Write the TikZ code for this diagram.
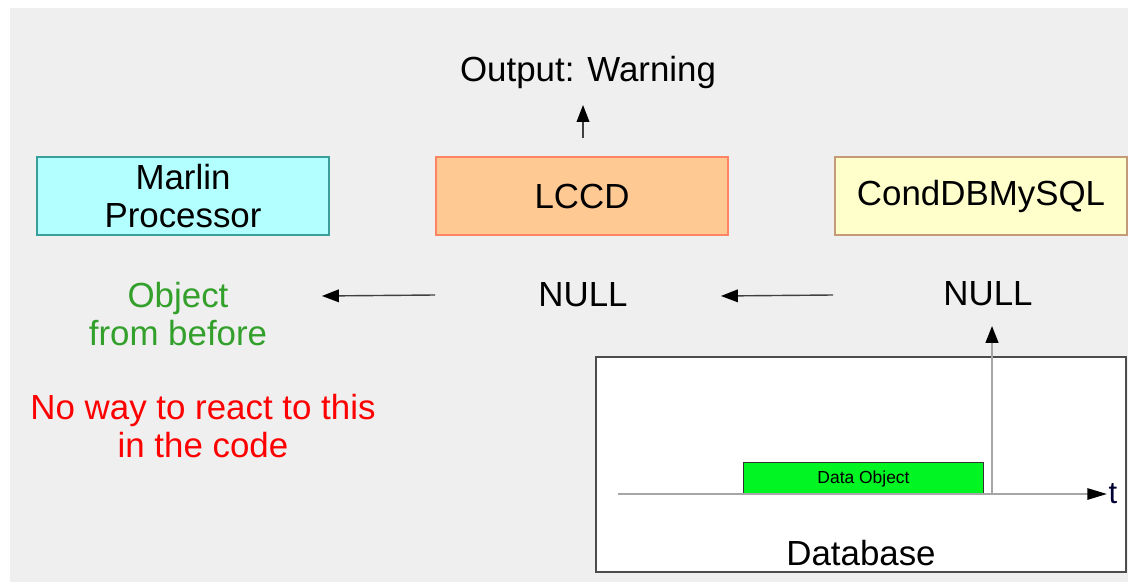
\documentclass[tikz,border=0pt]{standalone}
\usepackage{fontspec}
\setmainfont{Liberation Sans}
\usetikzlibrary{arrows.meta}
\definecolor{bggray}{HTML}{EFEFEF}
\definecolor{marlinfill}{HTML}{B3FFFF}
\definecolor{marlinline}{HTML}{3A9E9A}
\definecolor{lccdfill}{HTML}{FFC993}
\definecolor{lccdline}{HTML}{FF8466}
\definecolor{condfill}{HTML}{FFFFCC}
\definecolor{condline}{HTML}{C49A78}
\definecolor{objgreen}{HTML}{33A02C}
\definecolor{dataobj}{HTML}{00F522}
\tikzset{
  compbox/.style={draw,line width=0.8pt,minimum width=7.3cm,minimum height=1.95cm,
    align=center,font=\fontsize{24.8}{27}\selectfont},
  bigtext/.style={align=center,font=\fontsize{24.8}{27}\selectfont},
  flow/.style={draw=black!75,line width=1pt,-{Triangle[length=12pt,width=9pt,black]}},
}
\begin{document}
\begin{tikzpicture}[x=0.025cm,y=-0.025cm]
    \useasboundingbox (0,0) rectangle (1128,582);
    \fill[bggray] (10,8) rectangle (1128,582);
    % the three components
    \node[compbox,fill=marlinfill,draw=marlinline] (marlin) at (183,196){Marlin\\Processor};
    \node[compbox,fill=lccdfill,draw=lccdline] (lccd) at (582,196){LCCD};
    \node[compbox,fill=condfill,draw=condline] (cond) at (981,196){CondDBMySQL};
    \node[bigtext] (warn) at (588,72){Output: Warning};
    \coordinate (warnfrom) at (583,138);
    \coordinate (warnto) at (583,105);
    \draw[flow] (warnfrom) -- (warnto);
    % what is handed back
    \node[bigtext,text=objgreen] (obj) at (178,314){Object\\from before};
    \node[bigtext] (lnull) at (583,295){NULL};
    \node[bigtext] (cnull) at (988,294){NULL};
    \coordinate (lfrom) at (435,295);
    \coordinate (lto) at (322,296);
    \coordinate (cfrom) at (833,295);
    \coordinate (cto) at (721,296);
    \draw[flow] (lfrom) -- (lto);
    \draw[flow] (cfrom) -- (cto);
    \node[bigtext,text=red] (noway) at (203,426){No way to react to this\\in the code};
    % database
    \draw[fill=white,draw=black!70,line width=1.4pt] (596,357) rectangle (1126,572);
    \node[bigtext] (db) at (861,553){Database};
    \node[draw=black!80,fill=dataobj,line width=0.8pt,minimum width=5.98cm,minimum height=0.78cm,
      font=\fontsize{12.4}{14}\selectfont] (dobj) at (863.5,478.5){Data Object};
    \coordinate (tstart) at (618,494);
    \node[font=\fontsize{22}{24}\selectfont,text=black!80!blue,anchor=west,inner sep=1pt] (t) at (1107,494){t};
    \draw[draw=black!35,line width=1.5pt,-{Triangle[length=14pt,width=8pt,black]}] (tstart) -- (t.west);
    \coordinate (now) at (992,494);
    \coordinate (nowtip) at (992,326);
    \draw[draw=black!35,line width=1.5pt,-{Triangle[length=12pt,width=9pt,black]}] (now) -- (nowtip);
\end{tikzpicture}
\end{document}
